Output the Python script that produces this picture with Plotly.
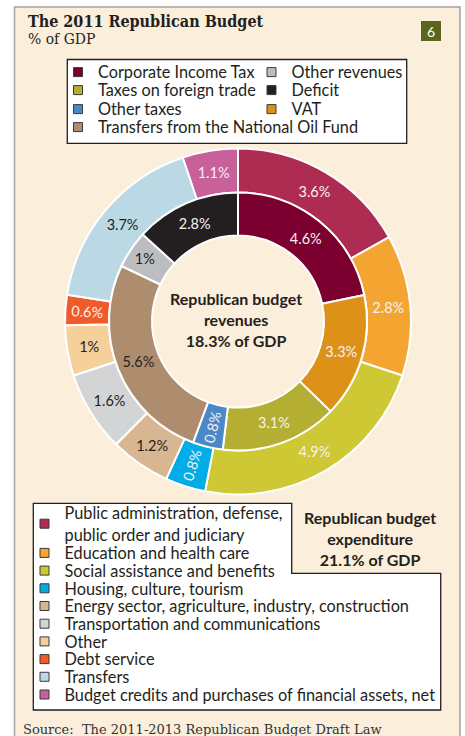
import plotly.graph_objects as go

W, H = 465, 736

# ---------------- data ----------------
revenue_labels = ["Corporate Income Tax", "VAT", "Taxes on foreign trade", "Other taxes",
                  "Transfers from the National Oil Fund", "Other revenues", "Deficit"]
revenue_values = [4.6, 3.3, 3.1, 0.8, 5.6, 1.0, 2.8]
revenue_colors = ["#7b0030", "#de9117", "#b4ae33", "#4a88c7", "#ae8d6f", "#bcbdc0", "#231f20"]
revenue_text_dark = [False, False, False, False, True, True, False]
revenue_radial = ["Other taxes"]
revenue_legend_order = ["Corporate Income Tax", "Other revenues", "Taxes on foreign trade", "Deficit",
                        "Other taxes", "VAT", "Transfers from the National Oil Fund"]

expenditure_labels = ["Public administration, defense, public order and judiciary",
                      "Education and health care", "Social assistance and benefits",
                      "Housing, culture, tourism",
                      "Energy sector, agriculture, industry, construction",
                      "Transportation and communications", "Other", "Debt service", "Transfers",
                      "Budget credits and purchases of financial assets, net"]
expenditure_legend_labels = ["Public administration, defense,<br>public order and judiciary",
                             "Education and health care", "Social assistance and benefits",
                             "Housing, culture, tourism",
                             "Energy sector, agriculture, industry, construction",
                             "Transportation and communications", "Other", "Debt service", "Transfers",
                             "Budget credits and purchases of financial assets, net"]
expenditure_values = [3.6, 2.8, 4.9, 0.8, 1.2, 1.6, 1.0, 0.6, 3.7, 1.1]
expenditure_colors = ["#ae2b52", "#f4a531", "#cec835", "#00ade7", "#d8b692", "#d3d4d6",
                      "#f6d09b", "#f15a29", "#bbd9e4", "#c8619a"]
expenditure_text_dark = [False, False, False, False, True, True, True, False, True, False]
expenditure_radial = ["Housing, culture, tourism", "Debt service"]

title_text = "The 2011 Republican Budget"
subtitle_text = "% of GDP"
badge_text = "6"
revenue_center_text = "Republican budget<br>revenues<br>18.3% of GDP"
expenditure_note_text = "Republican budget<br>expenditure<br>21.1% of GDP"
source_text = "Source:  The 2011-2013 Republican Budget Draft Law"

# ---------------- styles ----------------
BEIGE = "#fbeedb"
DARK = "#231f20"
LIGHT = "#f7f1f1"
SANS = "Lato"
SERIF = "DejaVu Serif"


def px(x):
    return x / W


def py(y):
    return 1 - y / H


def fmt(v):
    return f"{v:g}%"


fig = go.Figure()

# ring geometry (pixels)
CX, CY = 238, 321.5
R_OUT, R_MID, R_IN = 173, 129, 86


def domain(r):
    return dict(x=[px(CX - r), px(CX + r)], y=[py(CY + r), py(CY - r)])


def ring(labels, values, colors, dark, radial, r_outer, r_inner, name):
    txt_main = [("" if l in radial else fmt(v)) for l, v in zip(labels, values)]
    txt_rad = [(fmt(v) if l in radial else "") for l, v in zip(labels, values)]
    tcol = [DARK if d else LIGHT for d in dark]
    common = dict(labels=labels, values=values, sort=False, direction="clockwise", rotation=0,
                  domain=domain(r_outer), hole=r_inner / r_outer, textinfo="text",
                  textposition="inside", showlegend=False, name=name)
    fig.add_trace(go.Pie(**common, text=txt_main,
                         marker=dict(colors=colors, line=dict(color="white", width=2)),
                         insidetextorientation="horizontal",
                         textfont=dict(family=SANS, size=14.5, color=tcol),
                         hovertemplate="%{label}: %{value}%<extra></extra>"))
    fig.add_trace(go.Pie(**common, text=txt_rad,
                         marker=dict(colors=["rgba(0,0,0,0)"] * len(values), line=dict(width=0)),
                         insidetextorientation="radial",
                         textfont=dict(family=SANS, size=14.5, color=tcol),
                         hoverinfo="skip"))


ring(expenditure_labels, expenditure_values, expenditure_colors, expenditure_text_dark,
     expenditure_radial, R_OUT, R_MID, "Expenditure")
ring(revenue_labels, revenue_values, revenue_colors, revenue_text_dark,
     revenue_radial, R_MID, R_IN, "Revenues")

# ---------------- legends (one legend per entry for exact placement) ----------------
legend_layouts = {}
LEG_FONT = dict(family=SANS, size=16.3, color=DARK)


def add_entry(idx, label, color, text_x, yc):
    key = "legend" if idx == 0 else f"legend{idx + 1}"
    fig.add_trace(go.Scatter(x=[None], y=[None], mode="markers", name=label,
                             marker=dict(symbol="square", size=9, color=color,
                                         line=dict(color="#3a3a3a", width=1)),
                             legend=key, showlegend=True, hoverinfo="skip"))
    legend_layouts[key] = dict(x=px(text_x - 40), y=py(yc), xanchor="left", yanchor="middle",
                               bgcolor="rgba(0,0,0,0)", borderwidth=0, font=LEG_FONT,
                               orientation="v")


idx = 0
top_cols = [98, 291.5]
top_rows = [72.5, 90.5, 109.5, 127.5]
rev_color = dict(zip(revenue_labels, revenue_colors))
for k, lab in enumerate(revenue_legend_order):
    add_entry(idx, lab, rev_color[lab], top_cols[k % 2], top_rows[k // 2])
    idx += 1

bottom_rows = [524] + [553.3 + 17.7 * k for k in range(9)]
for k, lab in enumerate(expenditure_legend_labels):
    add_entry(idx, lab, expenditure_colors[k], 64.5, bottom_rows[k])
    idx += 1

# ---------------- shapes ----------------
shapes = [
    dict(type="rect", xref="paper", yref="paper", x0=px(14.5), x1=px(460), y0=py(760), y1=py(7),
         fillcolor=BEIGE, line=dict(color="#a3a3a3", width=1.5), layer="below"),
    dict(type="rect", xref="paper", yref="paper", x0=px(67.3), x1=px(406.7), y0=py(143.3), y1=py(59.5),
         fillcolor="white", line=dict(color=DARK, width=1.3), layer="below"),
    dict(type="rect", xref="paper", yref="paper", x0=px(421), x1=px(441), y0=py(41), y1=py(21),
         fillcolor="#5b6520", line=dict(width=0), layer="below"),
]
notch = [(33.3, 503.3), (291.7, 503.3), (291.7, 573.3), (440.7, 573.3), (440.7, 710), (33.3, 710)]
path = "M " + " L ".join(f"{px(a):.5f},{py(b):.5f}" for a, b in notch) + " Z"
shapes.append(dict(type="path", xref="paper", yref="paper", path=path, fillcolor="white",
                   line=dict(color=DARK, width=1.3), layer="below"))

# ---------------- annotations ----------------
ann = []


def text(s, x, y, size, family=SANS, color=DARK, xanchor="left", weight="normal"):
    ann.append(dict(text=s, x=px(x), y=py(y), xref="paper", yref="paper", showarrow=False,
                    xanchor=xanchor, yanchor="middle", align=xanchor if xanchor != "center" else "center",
                    font=dict(family=family, size=size, color=color, weight=weight)))


text(title_text, 26, 21, 16, family="DejaVu Serif Condensed, DejaVu Serif", weight="bold")
text(subtitle_text, 26, 38.5, 15.5, family="DejaVu Serif Condensed, DejaVu Serif")
text(badge_text, 431, 31, 14, family=SANS, color="white", xanchor="center")
text(revenue_center_text, 236, 320, 16, xanchor="center", weight="bold")
text(expenditure_note_text, 370, 538.5, 16, xanchor="center", weight="bold")
text(source_text, 21, 729.5, 13, family=SERIF, color="#333333")

fig.update_layout(
    width=W, height=H, margin=dict(l=0, r=0, t=0, b=0),
    paper_bgcolor="white", plot_bgcolor="rgba(0,0,0,0)",
    xaxis=dict(visible=False), yaxis=dict(visible=False),
    shapes=shapes, annotations=ann,
    **legend_layouts,
)

fig.write_html("out.html")
